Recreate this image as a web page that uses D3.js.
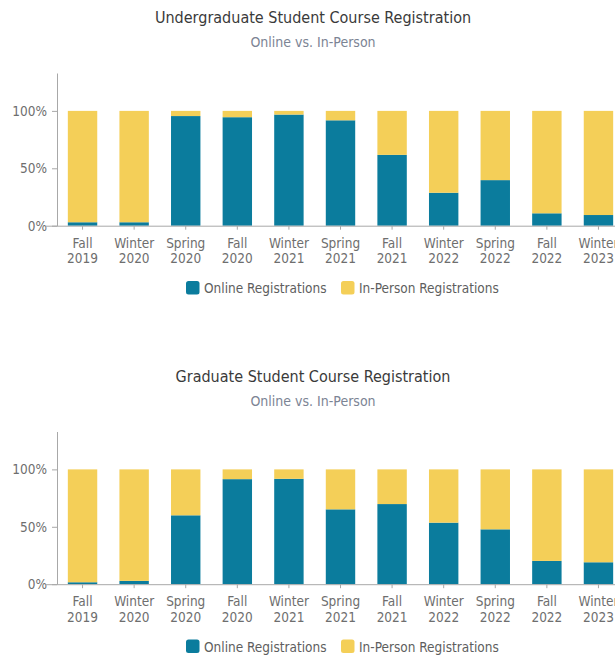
<!DOCTYPE html>
<html>
<head>
<meta charset="utf-8">
<script src="https://cdn.jsdelivr.net/npm/d3@7"></script>
<style>
  html, body { margin: 0; padding: 0; background: #fff; }
  svg text { font-family: "Liberation Sans Narrow", "DejaVu Sans Condensed", "Arial Narrow", sans-serif; }
</style>
</head>
<body>
<svg id="chart" width="615" height="656"></svg>
<script>
const categories = [
  ["Fall", "2019"], ["Winter", "2020"], ["Spring", "2020"], ["Fall", "2020"],
  ["Winter", "2021"], ["Spring", "2021"], ["Fall", "2021"], ["Winter", "2022"],
  ["Spring", "2022"], ["Fall", "2022"], ["Winter", "2023"]
];
const undergradOnline = [0.03, 0.03, 0.955, 0.945, 0.968, 0.918, 0.617, 0.287, 0.397, 0.108, 0.093];
const gradOnline      = [0.017, 0.029, 0.60, 0.915, 0.918, 0.652, 0.698, 0.536, 0.478, 0.203, 0.191];
const yTicks = [0, 0.5, 1];
const seriesNames = ["Online Registrations", "In-Person Registrations"];
const colors = ["#0b7c9d", "#f4cf58"];
const titles = ["Undergraduate Student Course Registration", "Graduate Student Course Registration"];
const subtitle = "Online vs. In-Person";

const svg = d3.select("#chart");
const keys = categories.map(c => c.join(" "));

function drawPanel(offsetY, title, online) {
  const g = svg.append("g").attr("transform", `translate(0,${offsetY})`);
  const centerX = 313;
  g.append("text").attr("x", centerX).attr("y", 23).attr("text-anchor", "middle")
    .attr("font-size", 16).attr("fill", "#3a3a3a").text(title);
  g.append("text").attr("x", centerX).attr("y", 47).attr("text-anchor", "middle")
    .attr("font-size", 14).attr("fill", "#7c8494").text(subtitle);

  const x = d3.scaleBand().domain(keys).range([57, 624]).paddingInner(0.43).paddingOuter(0.21);
  const y = d3.scaleLinear().domain([0, 1.33]).range([225.7, 73]);

  const rows = online.map((v, i) => ({ key: keys[i], online: v, inperson: 1 - v }));
  const stack = d3.stack().keys(["online", "inperson"])(rows);

  g.selectAll("g.series").data(stack).join("g").attr("class", "series")
    .attr("fill", (d, i) => colors[i])
    .selectAll("rect").data(d => d).join("rect")
    .attr("x", d => x(d.data.key))
    .attr("width", x.bandwidth())
    .attr("y", d => y(d[1]))
    .attr("height", d => y(d[0]) - y(d[1]));

  // y axis
  const yAxis = g.append("g").attr("transform", "translate(57,0)")
    .call(d3.axisLeft(y).tickValues(yTicks).tickFormat(d3.format(".0%")).tickSize(5).tickSizeOuter(0));
  yAxis.select(".domain").attr("stroke", "#a8a8a8");
  yAxis.selectAll(".tick line").attr("stroke", "#a8a8a8");
  yAxis.selectAll(".tick text").attr("font-size", 13.5).attr("fill", "#6e6e6e").attr("x", -10);

  // x axis
  const xAxis = g.append("g").attr("transform", `translate(0,${y(0)})`)
    .call(d3.axisBottom(x).tickSize(4).tickSizeOuter(0).tickFormat(""));
  xAxis.select(".domain").attr("stroke", "#a8a8a8").attr("d", `M46,0.5H615`);
  xAxis.selectAll(".tick line").attr("stroke", "#a8a8a8");
  xAxis.selectAll(".tick").each(function(d, i) {
    const t = d3.select(this).append("text").attr("fill", "#6e6e6e").attr("font-size", 13.5)
      .attr("text-anchor", "middle");
    t.append("tspan").attr("x", 0).attr("y", 22).text(categories[i][0]);
    t.append("tspan").attr("x", 0).attr("y", 37.8).text(categories[i][1]);
  });
  g.selectAll("text").attr("font-family", null);
  xAxis.attr("font-family", null);
  yAxis.attr("font-family", null);

  // legend
  const lg = g.append("g").attr("transform", "translate(0,288)");
  const items = [{ x: 186, tx: 204 }, { x: 341, tx: 359 }];
  seriesNames.forEach((name, i) => {
    lg.append("rect").attr("x", items[i].x).attr("y", -7).attr("width", 13.5).attr("height", 13.5)
      .attr("rx", 2.5).attr("fill", colors[i]);
    lg.append("text").attr("x", items[i].tx).attr("y", 5).attr("font-size", 13.5)
      .attr("fill", "#5e5e5e").text(name);
  });
}

drawPanel(0, titles[0], undergradOnline);
drawPanel(358.5, titles[1], gradOnline);
</script>
</body>
</html>
